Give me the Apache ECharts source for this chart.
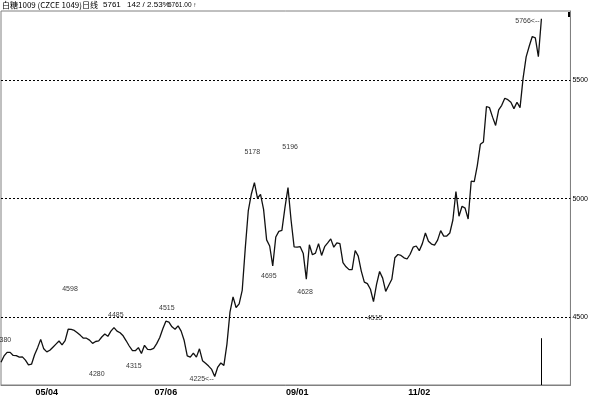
<!DOCTYPE html>
<html><head><meta charset="utf-8">
<script src="https://cdn.jsdelivr.net/npm/echarts@6.0.0/dist/echarts.min.js"></script>
<style>html,body{margin:0;padding:0;background:#fff;}#c{width:591px;height:397px;}</style>
</head><body><div id="c"></div>
<script>
// Daily closing prices
const closes = [
  4308, 4335, 4350, 4350, 4337, 4336, 4330, 4331, 4317, 4297,
  4300, 4340, 4370, 4405, 4365, 4352, 4359, 4372, 4385, 4398,
  4382, 4400, 4448, 4447, 4443, 4433, 4422, 4410, 4410, 4402,
  4388, 4396, 4399, 4415, 4428, 4418, 4440, 4455, 4440, 4433,
  4420, 4399, 4377, 4358, 4357, 4370, 4345, 4380, 4363, 4362,
  4367, 4387, 4413, 4450, 4482, 4478, 4458, 4448, 4462, 4440,
  4400, 4335, 4330, 4347, 4330, 4365, 4315, 4304, 4292, 4278,
  4248, 4288, 4305, 4295, 4385, 4520, 4585, 4540, 4555, 4612,
  4790, 4950, 5020, 5068, 5002, 5018, 4955, 4826, 4800, 4716,
  4838, 4862, 4866, 4962, 5047, 4910, 4796, 4795, 4797, 4768,
  4660, 4805, 4763, 4770, 4810, 4760, 4797, 4813, 4830, 4795,
  4813, 4810, 4730, 4712, 4700, 4700, 4781, 4757, 4694, 4647,
  4641, 4617, 4565, 4638, 4692, 4664, 4608, 4634, 4659, 4750,
  4764, 4760, 4750, 4745, 4765, 4795, 4800, 4780, 4810, 4855,
  4820, 4808, 4804, 4825, 4865, 4842, 4842, 4855, 4910, 5030,
  4926, 4968, 4960, 4914, 5074, 5072, 5140, 5230, 5240, 5390,
  5385, 5345, 5310, 5376, 5395, 5425, 5419, 5408, 5381, 5408,
  5385, 5510, 5600, 5645, 5686, 5680, 5601, 5761
];
// x-axis tick labels (bar index -> date text)
const tickIndex = [15, 54, 97, 137];
const tickText = ['05/04', '07/06', '09/01', '11/02'];
// y-axis tick values
const yTicks = [4500, 5000, 5500];
// high / low annotations
const annoIndex = [0.8, 22.6, 31.4, 37.6, 43.5, 54.3, 69.7, 82.3, 87.7, 94.7, 99.6, 122.4, 176.4];
const annoValue = [4380, 4598, 4280, 4485, 4315, 4515, 4225, 5178, 4695, 5196, 4628, 4515, 5766];
const annoKind  = ['high','high','low','high','low','high','min','high','low','high','low','low','max'];
// marker bar at the last day
const markerIndex = 177;
const markerTop = 4410;

const chart = echarts.init(document.getElementById('c'), null, {renderer: 'canvas'});
const FONT = 'Liberation Sans';

const annoData = annoIndex.map((x, k) => {
  const kind = annoKind[k];
  let label;
  if (kind === 'high') label = {position: 'inside', offset: [0, -5]};
  else if (kind === 'low') label = {position: 'inside', offset: [0, 5]};
  else if (kind === 'min') label = {position: 'left', distance: 0, offset: [0, -3], formatter: annoValue[k] + '<--'};
  else label = {position: 'left', distance: 0, offset: [0, 3], formatter: annoValue[k] + '<--'};
  return {value: [x, annoValue[k]], label};
});

chart.setOption({
  animation: false,
  grid: {left: 1, top: 11, width: 570, height: 375, show: true, borderColor: '#808080', borderWidth: 1, backgroundColor: '#fff'},
  xAxis: {
    type: 'value', min: 0, max: 186.5,
    splitLine: {show: false},
    axisLine: {show: true, onZero: false, lineStyle: {color: '#808080', width: 1}},
    axisTick: {show: false},
    axisLabel: {
      customValues: tickIndex,
      formatter: v => tickText[tickIndex.indexOf(v)],
      fontSize: 9, fontWeight: 'bold', color: '#000', margin: 3, fontFamily: FONT
    }
  },
  yAxis: {
    type: 'value', position: 'right', min: 4212, max: 5794,
    splitLine: {show: false},
    axisLine: {show: true, onZero: false, lineStyle: {color: '#808080', width: 1}},
    axisTick: {show: false},
    axisLabel: {customValues: yTicks, formatter: v => String(v), fontSize: 7, color: '#000', margin: 2, fontFamily: FONT}
  },
  graphic: [
    {type: 'rect', shape: {x: 568, y: 12, width: 3, height: 5}, style: {fill: '#000'}},
    {type: 'text', x: 2, y: 1, style: {text: '白糖1009 (CZCE 1049)日线', font: '8px "Noto Sans CJK SC"', fill: '#000'}},
    {type: 'text', x: 103, y: 1, style: {text: '5761', font: '8px "Liberation Sans"', fill: '#000'}},
    {type: 'text', x: 127, y: 1, style: {text: '142 / 2.53%', font: '8px "Liberation Sans"', fill: '#000'}},
    {type: 'text', x: 168, y: 2, style: {text: '5761.00 ↑', font: '6.5px "Liberation Sans"', fill: '#000'}}
  ],
  series: [
    {
      type: 'line',
      data: closes.map((v, i) => [i, v]),
      showSymbol: false, symbol: 'none',
      lineStyle: {color: '#111', width: 1.3},
      markLine: {
        silent: true, symbol: ['none', 'none'],
        label: {show: false},
        lineStyle: {type: [2, 2], color: '#000', width: 1},
        data: yTicks.map(v => ({yAxis: v})).concat([
          [{coord: [markerIndex, markerTop], lineStyle: {type: 'solid', color: '#000', width: 1}},
           {coord: [markerIndex, 4212]}]
        ])
      },
      z: 3
    },
    {
      type: 'scatter',
      data: annoData,
      symbolSize: 0,
      silent: true,
      label: {show: true, formatter: p => String(p.value[1]), fontSize: 7, color: '#000', fontFamily: FONT},
      z: 4
    }
  ]
});
</script>
</body></html>
